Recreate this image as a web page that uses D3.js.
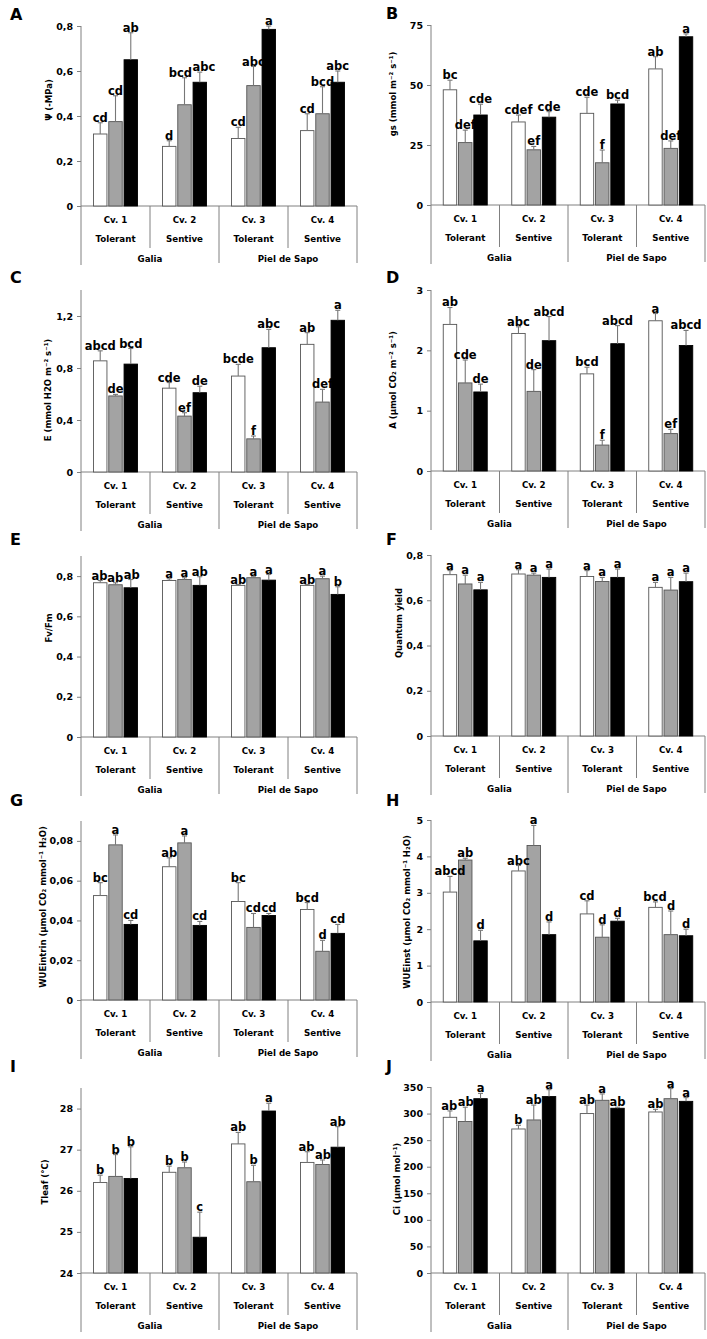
<!DOCTYPE html>
<html>
<head>
<meta charset="utf-8">
<script src="https://cdn.jsdelivr.net/npm/d3@7"></script>
<style>
  body { margin: 0; background: #fff; }
  text { font-family: "DejaVu Sans", sans-serif; font-weight: bold; fill: #000; }
</style>
</head>
<body>
<svg id="fig" width="707" height="1339"></svg>
<script>
// categories
var cultivars = ["Cv. 1", "Cv. 2", "Cv. 3", "Cv. 4"];
var tolerance = ["Tolerant", "Sentive", "Tolerant", "Sentive"];
var melonTypes = ["Galia", "Piel de Sapo"];
var treatments = ["white", "gray", "black"];

// A  water potential
var psiMean = [[0.32, 0.375, 0.65], [0.265, 0.45, 0.55], [0.30, 0.535, 0.785], [0.335, 0.41, 0.55]];
var psiSe   = [[0.05, 0.115, 0.12], [0.025, 0.12, 0.045], [0.05, 0.085, 0.015], [0.075, 0.12, 0.05]];
var psiSig  = [["cd", "cd", "ab"], ["d", "bcd", "abc"], ["cd", "abc", "a"], ["cd", "bcd", "abc"]];
var psiTicks = [0, 0.2, 0.4, 0.6, 0.8];

// B  stomatal conductance
var gsMean = [[48, 26, 37.5], [34.6, 23, 36.6], [38.2, 17.6, 42.1], [56.7, 23.6, 70.1]];
var gsSe   = [[4, 5.2, 4.5], [2.9, 1.4, 2.3], [6.7, 5.3, 1.6], [5.1, 3.1, 1.2]];
var gsSig  = [["bc", "def", "cde"], ["cdef", "ef", "cde"], ["cde", "f", "bcd"], ["ab", "def", "a"]];
var gsTicks = [0, 25, 50, 75];

// C  transpiration
var eMean = [[0.855, 0.585, 0.83], [0.645, 0.43, 0.61], [0.738, 0.255, 0.956], [0.982, 0.538, 1.167]];
var eSe   = [[0.077, 0.012, 0.12], [0.043, 0.026, 0.05], [0.09, 0.022, 0.141], [0.09, 0.098, 0.077]];
var eSig  = [["abcd", "de", "bcd"], ["cde", "ef", "de"], ["bcde", "f", "abc"], ["ab", "def", "a"]];
var eTicks = [0, 0.4, 0.8, 1.2];

// D  net assimilation
var aMean = [[2.43, 1.46, 1.31], [2.28, 1.32, 2.16], [1.61, 0.43, 2.11], [2.49, 0.62, 2.08]];
var aSe   = [[0.28, 0.38, 0.13], [0.11, 0.36, 0.40], [0.11, 0.08, 0.30], [0.12, 0.07, 0.25]];
var aSig  = [["ab", "cde", "de"], ["abc", "de", "abcd"], ["bcd", "f", "abcd"], ["a", "ef", "abcd"]];
var aTicks = [0, 1, 2, 3];

// E  Fv/Fm
var fvMean = [[0.767, 0.757, 0.742], [0.778, 0.783, 0.754], [0.754, 0.792, 0.780], [0.754, 0.787, 0.709]];
var fvSe   = [[0.011, 0.010, 0.041], [0.009, 0.009, 0.043], [0.004, 0.005, 0.028], [0.004, 0.013, 0.038]];
var fvSig  = [["ab", "ab", "ab"], ["a", "a", "ab"], ["ab", "a", "a"], ["ab", "a", "b"]];
var fvTicks = [0, 0.2, 0.4, 0.6, 0.8];

// F  quantum yield
var qyMean = [[0.713, 0.672, 0.646], [0.716, 0.711, 0.701], [0.705, 0.683, 0.701], [0.657, 0.645, 0.682]];
var qySe   = [[0.018, 0.039, 0.033], [0.019, 0.009, 0.037], [0.026, 0.018, 0.037], [0.022, 0.056, 0.038]];
var qySig  = [["a", "a", "a"], ["a", "a", "a"], ["a", "a", "a"], ["a", "a", "a"]];
var qyTicks = [0, 0.2, 0.4, 0.6, 0.8];

// G  intrinsic WUE
var wueiMean = [[0.0525, 0.078, 0.038], [0.067, 0.079, 0.0375], [0.0495, 0.0365, 0.0425], [0.0455, 0.0245, 0.0335]];
var wueiSe   = [[0.0065, 0.005, 0.002], [0.0045, 0.0035, 0.002], [0.0095, 0.007, 0.001], [0.0035, 0.0055, 0.0045]];
var wueiSig  = [["bc", "a", "cd"], ["ab", "a", "cd"], ["bc", "cd", "cd"], ["bcd", "d", "cd"]];
var wueiTicks = [0, 0.02, 0.04, 0.06, 0.08];

// H  instantaneous WUE
var wueMean = [[3.02, 3.9, 1.68], [3.6, 4.3, 1.85], [2.42, 1.78, 2.22], [2.6, 1.85, 1.82]];
var wueSe   = [[0.43, 0.05, 0.29], [0.15, 0.55, 0.35], [0.36, 0.34, 0.08], [0.15, 0.65, 0.18]];
var wueSig  = [["abcd", "ab", "d"], ["abc", "a", "d"], ["cd", "d", "d"], ["bcd", "d", "d"]];
var wueTicks = [0, 1, 2, 3, 4, 5];

// I  leaf temperature
var tleafMean = [[26.2, 26.35, 26.3], [26.45, 26.56, 24.87], [27.14, 26.22, 27.94], [26.69, 26.64, 27.06]];
var tleafSe   = [[0.18, 0.53, 0.77], [0.15, 0.14, 0.61], [0.28, 0.40, 0.19], [0.26, 0.11, 0.50]];
var tleafSig  = [["b", "b", "b"], ["b", "b", "c"], ["ab", "b", "a"], ["ab", "ab", "ab"]];
var tleafTicks = [24, 25, 26, 27, 28];

// J  intercellular CO2
var ciMean = [[293, 285, 328], [271, 288, 332], [300, 325, 310], [303, 328, 323]];
var ciSe   = [[12, 27, 10], [7, 28, 13], [16, 12, 2], [5, 19, 7]];
var ciSig  = [["ab", "ab", "a"], ["b", "ab", "a"], ["ab", "a", "ab"], ["ab", "a", "a"]];
var ciTicks = [0, 50, 100, 150, 200, 250, 300, 350];

var panels = [
  {letter: "A", col: 0, mean: psiMean, se: psiSe, sig: psiSig, ticks: psiTicks, domain: [0, 0.8], top: 26, zero: 206, letterY: 20, title: "\u03A8 (-MPa)", titleX: 49, titleY: 100},
  {letter: "B", col: 1, mean: gsMean, se: gsSe, sig: gsSig, ticks: gsTicks, domain: [0, 75], top: 25, zero: 205, letterY: 19, title: "gs (mmol m\u207B\u00B2 s\u207B\u00B9)", titleX: 393, titleY: 94},
  {letter: "C", col: 0, mean: eMean, se: eSe, sig: eSig, ticks: eTicks, domain: [0, 1.4], top: 290, zero: 472, letterY: 283, title: "E (mmol H2O m\u207B\u00B2 s\u207B\u00B9)", titleX: 48, titleY: 390},
  {letter: "D", col: 1, mean: aMean, se: aSe, sig: aSig, ticks: aTicks, domain: [0, 3], top: 290, zero: 471, letterY: 283, title: "A (\u00B5mol CO\u2082 m\u207B\u00B2 s\u207B\u00B9)", titleX: 393, titleY: 380},
  {letter: "E", col: 0, mean: fvMean, se: fvSe, sig: fvSig, ticks: fvTicks, domain: [0, 0.9], top: 556, zero: 737, letterY: 545, title: "Fv/Fm", titleX: 49, titleY: 628},
  {letter: "F", col: 1, mean: qyMean, se: qySe, sig: qySig, ticks: qyTicks, domain: [0, 0.8], top: 555, zero: 736, letterY: 545, title: "Quantum yield", titleX: 399, titleY: 623},
  {letter: "G", col: 0, mean: wueiMean, se: wueiSe, sig: wueiSig, ticks: wueiTicks, domain: [0, 0.09], top: 821, zero: 1000, letterY: 806, title: "WUEintrin (\u00B5mol CO\u2082 mmol\u207B\u00B9 H\u2082O)", titleX: 43, titleY: 907},
  {letter: "H", col: 1, mean: wueMean, se: wueSe, sig: wueSig, ticks: wueTicks, domain: [0, 5], top: 820, zero: 1002, letterY: 806, title: "WUEinst (\u00B5mol CO\u2082 mmol\u207B\u00B9 H\u2082O)", titleX: 407, titleY: 912},
  {letter: "I", col: 0, mean: tleafMean, se: tleafSe, sig: tleafSig, ticks: tleafTicks, domain: [24, 28.5], top: 1088, zero: 1273, letterY: 1072, title: "Tleaf (\u00B0C)", titleX: 45, titleY: 1182},
  {letter: "J", col: 1, mean: ciMean, se: ciSe, sig: ciSig, ticks: ciTicks, domain: [0, 350], top: 1087, zero: 1273, letterY: 1072, title: "Ci (\u00B5mol mol\u207B\u00B9)", titleX: 397, titleY: 1179}
];

var fills = {white: "#ffffff", gray: "#a3a3a3", black: "#000000"};
var strokes = {white: "#555555", gray: "#555555", black: "#000000"};
var axisCol = "#808080";

var svg = d3.select("#fig");

function commaFmt(v) { return String(v).replace(".", ","); }

panels.forEach(function (p) {
  var left = p.col ? 431 : 81,
      right = p.col ? 705 : 357,
      letterX = p.col ? 386 : 10;
  var g = svg.append("g");

  var y = d3.scaleLinear().domain(p.domain).range([p.zero, p.top]);
  var x0 = d3.scaleBand().domain(cultivars).range([left, right]);
  var x1 = d3.scaleBand().domain(treatments).range([0, 44]).paddingInner(0.12);

  // panel letter
  g.append("text").attr("x", letterX).attr("y", p.letterY)
    .style("font-size", "16px").text(p.letter);

  // y axis
  var yAxis = g.append("g").attr("transform", "translate(" + left + ",0)")
    .call(d3.axisLeft(y).tickValues(p.ticks).tickSize(4).tickPadding(4).tickFormat(commaFmt));
  yAxis.select(".domain").remove();
  yAxis.selectAll(".tick line").attr("stroke", axisCol);
  yAxis.selectAll(".tick text").style("font-size", "9.5px")
    .style("font-family", "'DejaVu Sans', sans-serif").style("font-weight", "bold").attr("fill", "#000");
  g.append("line").attr("x1", left).attr("x2", left)
    .attr("y1", p.top).attr("y2", p.zero + 59).attr("stroke", axisCol);

  // y title
  g.append("text")
    .attr("transform", "translate(" + p.titleX + "," + p.titleY + ") rotate(-90)")
    .attr("text-anchor", "middle").attr("dominant-baseline", "central")
    .style("font-size", "8.5px").text(p.title);

  // x axis baseline and category dividers
  g.append("line").attr("x1", left).attr("x2", right)
    .attr("y1", p.zero).attr("y2", p.zero).attr("stroke", axisCol);
  cultivars.forEach(function (c, i) {
    var xr = x0(c) + x0.bandwidth();
    g.append("line").attr("x1", xr).attr("x2", xr)
      .attr("y1", p.zero).attr("y2", p.zero + (i % 2 === 0 ? 42 : 57))
      .attr("stroke", axisCol);
    var cx = x0(c) + x0.bandwidth() / 2;
    g.append("text").attr("x", cx).attr("y", p.zero + 14)
      .attr("text-anchor", "middle").attr("dominant-baseline", "central")
      .style("font-size", "8.7px").text(c);
    g.append("text").attr("x", cx).attr("y", p.zero + 33)
      .attr("text-anchor", "middle").attr("dominant-baseline", "central")
      .style("font-size", "8.7px").text(tolerance[i]);
  });
  melonTypes.forEach(function (m, k) {
    var cx = x0(cultivars[k * 2]) + x0.bandwidth();
    g.append("text").attr("x", cx).attr("y", p.zero + 53)
      .attr("text-anchor", "middle").attr("dominant-baseline", "central")
      .style("font-size", "8.7px").text(m);
  });

  // bars
  var rows = [];
  cultivars.forEach(function (c, i) {
    treatments.forEach(function (t, j) {
      rows.push({c: c, t: t, mean: p.mean[i][j], se: p.se[i][j], sig: p.sig[i][j]});
    });
  });
  function barX(d) { return x0(d.c) + x0.bandwidth() / 2 - 22 + x1(d.t); }
  function barCx(d) { return barX(d) + x1.bandwidth() / 2; }

  g.selectAll("rect.bar").data(rows).enter().append("rect")
    .attr("class", "bar")
    .attr("x", barX)
    .attr("y", function (d) { return y(d.mean); })
    .attr("width", x1.bandwidth())
    .attr("height", function (d) { return p.zero - y(d.mean); })
    .attr("fill", function (d) { return fills[d.t]; })
    .attr("stroke", function (d) { return strokes[d.t]; })
    .attr("stroke-width", 0.9);

  // error bars (upper only)
  var eb = g.selectAll("g.err").data(rows).enter().append("g").attr("class", "err")
    .attr("stroke", "#777").attr("stroke-width", 1.1);
  eb.append("line")
    .attr("x1", barCx).attr("x2", barCx)
    .attr("y1", function (d) { return y(d.mean); })
    .attr("y2", function (d) { return y(d.mean + d.se); });
  eb.append("line")
    .attr("x1", function (d) { return barCx(d) - 2.5; })
    .attr("x2", function (d) { return barCx(d) + 2.5; })
    .attr("y1", function (d) { return y(d.mean + d.se); })
    .attr("y2", function (d) { return y(d.mean + d.se); });

  // significance letters
  var sig = g.selectAll("text.sig").data(rows).enter().append("text")
    .attr("class", "sig")
    .attr("x", barCx)
    .attr("y", function (d) { return y(d.mean + d.se) - 1; })
    .attr("text-anchor", "middle")
    .style("font-size", "11.5px")
    .text(function (d) { return d.sig; });

  // nudge neighbouring letters apart when they collide
  var nodes = sig.nodes();
  nodes.forEach(function (n, k) {
    var d = rows[k];
    d.lx = barCx(d);
    d.ly = y(d.mean + d.se) - 1;
    d.w = n.getComputedTextLength();
  });
  for (var k = 0; k < rows.length - 1; k++) {
    var a = rows[k], b = rows[k + 1];
    if (a.c !== b.c || Math.abs(a.ly - b.ly) > 10) continue;
    var overlap = (a.lx + a.w / 2) - (b.lx - b.w / 2) + 0.5;
    if (overlap > 0) {
      a.lx -= overlap / 2;
      b.lx += overlap / 2;
    }
  }
  sig.attr("x", function (d) { return d.lx; });
});
</script>
</body>
</html>
